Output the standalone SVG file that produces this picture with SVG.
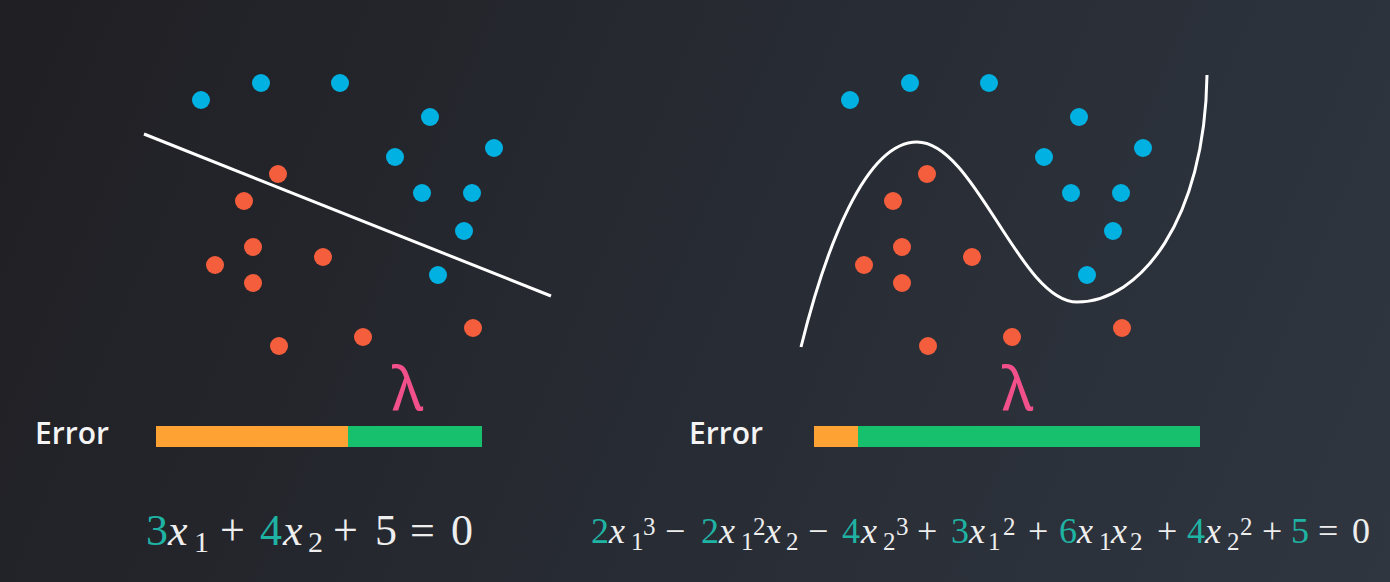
<svg xmlns="http://www.w3.org/2000/svg" width="1390" height="582" viewBox="0 0 1390 582">
<defs>
<linearGradient id="bg" x1="0" y1="0" x2="1390" y2="582" gradientUnits="userSpaceOnUse">
<stop offset="0" stop-color="#201f23"/>
<stop offset="0.5" stop-color="#272b33"/>
<stop offset="1" stop-color="#2f3640"/>
</linearGradient>
<style>
.b{fill:#00b1e2}
.r{fill:#f55e3d}
.cv{fill:none;stroke:#ffffff;stroke-width:3;stroke-linecap:butt}
.err{font-family:"Open Sans","Noto Sans",sans-serif;font-weight:600;font-size:30px;fill:#f4f4f4}
.lam{font-family:"Noto Sans","DejaVu Sans",sans-serif;font-size:60px;fill:#f2508a}
.eq text{font-family:"Liberation Serif","DejaVu Serif",serif;fill:#eeeeee}
.eq .t{fill:#1fb3a4}
.eq .i{font-style:italic}
</style>
</defs>
<rect width="1390" height="582" fill="url(#bg)"/>

<g id="left-plot">
<g id="left-blue">
<circle class="b" cx="201" cy="100" r="9"/>
<circle class="b" cx="261" cy="83" r="9"/>
<circle class="b" cx="340" cy="83" r="9"/>
<circle class="b" cx="430" cy="117" r="9"/>
<circle class="b" cx="494" cy="148" r="9"/>
<circle class="b" cx="395" cy="157" r="9"/>
<circle class="b" cx="422" cy="193" r="9"/>
<circle class="b" cx="472" cy="193" r="9"/>
<circle class="b" cx="464" cy="231" r="9"/>
<circle class="b" cx="438" cy="275" r="9"/>
</g>
<g id="left-red">
<circle class="r" cx="278" cy="174" r="9"/>
<circle class="r" cx="244" cy="201" r="9"/>
<circle class="r" cx="253" cy="247" r="9"/>
<circle class="r" cx="323" cy="257" r="9"/>
<circle class="r" cx="215" cy="265" r="9"/>
<circle class="r" cx="253" cy="283" r="9"/>
<circle class="r" cx="473" cy="328" r="9"/>
<circle class="r" cx="363" cy="337" r="9"/>
<circle class="r" cx="279" cy="346" r="9"/>
</g>
</g>

<g id="right-plot">
<g id="right-blue">
<circle class="b" cx="850" cy="100" r="9"/>
<circle class="b" cx="910" cy="83" r="9"/>
<circle class="b" cx="989" cy="83" r="9"/>
<circle class="b" cx="1079" cy="117" r="9"/>
<circle class="b" cx="1143" cy="148" r="9"/>
<circle class="b" cx="1044" cy="157" r="9"/>
<circle class="b" cx="1071" cy="193" r="9"/>
<circle class="b" cx="1121" cy="193" r="9"/>
<circle class="b" cx="1113" cy="231" r="9"/>
<circle class="b" cx="1087" cy="275" r="9"/>
</g>
<g id="right-red">
<circle class="r" cx="927" cy="174" r="9"/>
<circle class="r" cx="893" cy="201" r="9"/>
<circle class="r" cx="902" cy="247" r="9"/>
<circle class="r" cx="972" cy="257" r="9"/>
<circle class="r" cx="864" cy="265" r="9"/>
<circle class="r" cx="902" cy="283" r="9"/>
<circle class="r" cx="1122" cy="328" r="9"/>
<circle class="r" cx="1012" cy="337" r="9"/>
<circle class="r" cx="928" cy="346" r="9"/>
</g>
</g>

<g id="boundaries">
<line class="cv" x1="144" y1="134" x2="551" y2="296"/>
<path class="cv" d="M801,347 C825,250 865,142 917,142 C975,142 1020,302 1077,302 C1140,302 1205,220 1207,75"/>
</g>

<g id="left-error">
<text class="err" x="35" y="444">Error</text>
<rect x="156" y="426" width="192" height="21" fill="#ffa234"/>
<rect x="348" y="426" width="134" height="21" fill="#17c06c"/>
<text class="lam" x="392" y="410">λ</text>
</g>

<g id="right-error">
<text class="err" x="689" y="444">Error</text>
<rect x="814" y="426" width="44" height="21" fill="#ffa234"/>
<rect x="858" y="426" width="342" height="21" fill="#17c06c"/>
<text class="lam" x="1002" y="410">λ</text>
</g>

<g id="left-equation" class="eq">
<text font-size="44" x="146" y="545" class="t">3</text>
<text font-size="44" x="168" y="545" class="i">x</text>
<text font-size="30" x="194" y="552">1</text>
<text font-size="44" x="220" y="545">+</text>
<text font-size="44" x="260" y="545" class="t">4</text>
<text font-size="44" x="283" y="545" class="i">x</text>
<text font-size="30" x="308" y="552">2</text>
<text font-size="44" x="333" y="545">+</text>
<text font-size="44" x="375" y="545">5</text>
<text font-size="44" x="410" y="545">=</text>
<text font-size="44" x="451" y="545">0</text>
</g>

<g id="right-equation" class="eq">
<text font-size="36" x="591" y="543" class="t">2</text>
<text font-size="36" x="609" y="543" class="i">x</text>
<text font-size="25" x="631" y="550">1</text>
<text font-size="25" x="643" y="535">3</text>
<text font-size="36" x="665" y="543">−</text>
<text font-size="36" x="701" y="543" class="t">2</text>
<text font-size="36" x="719" y="543" class="i">x</text>
<text font-size="25" x="741" y="550">1</text>
<text font-size="25" x="753" y="535">2</text>
<text font-size="36" x="765" y="543" class="i">x</text>
<text font-size="25" x="786" y="550">2</text>
<text font-size="36" x="808" y="543">−</text>
<text font-size="36" x="842" y="543" class="t">4</text>
<text font-size="36" x="861" y="543" class="i">x</text>
<text font-size="25" x="883" y="550">2</text>
<text font-size="25" x="896" y="535">3</text>
<text font-size="36" x="917" y="543">+</text>
<text font-size="36" x="951" y="543" class="t">3</text>
<text font-size="36" x="969" y="543" class="i">x</text>
<text font-size="25" x="988" y="550">1</text>
<text font-size="25" x="1003" y="535">2</text>
<text font-size="36" x="1028" y="543">+</text>
<text font-size="36" x="1059" y="543" class="t">6</text>
<text font-size="36" x="1077" y="543" class="i">x</text>
<text font-size="25" x="1099" y="550">1</text>
<text font-size="36" x="1111" y="543" class="i">x</text>
<text font-size="25" x="1130" y="550">2</text>
<text font-size="36" x="1157" y="543">+</text>
<text font-size="36" x="1187" y="543" class="t">4</text>
<text font-size="36" x="1205" y="543" class="i">x</text>
<text font-size="25" x="1227" y="550">2</text>
<text font-size="25" x="1240" y="535">2</text>
<text font-size="36" x="1262" y="543">+</text>
<text font-size="36" x="1291" y="543" class="t">5</text>
<text font-size="36" x="1318" y="543">=</text>
<text font-size="36" x="1352" y="543">0</text>
</g>
</svg>
